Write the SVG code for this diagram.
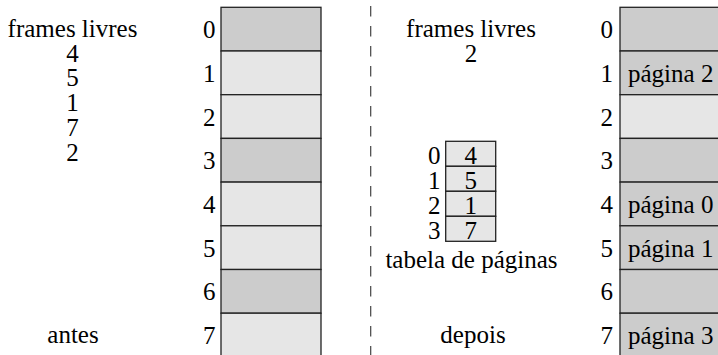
<svg xmlns="http://www.w3.org/2000/svg" width="718" height="355" viewBox="0 0 718 355" font-family="Liberation Serif, Tinos, Times New Roman, Times, serif">
<style>
text{font-family:'Liberation Serif',Tinos,'Times New Roman',Times,serif;font-size:25px;fill:#000}
.m{text-anchor:middle}
.e{text-anchor:end}
.d{fill:#cccccc;stroke:#222;stroke-width:1.3}
.l{fill:#e6e6e6;stroke:#222;stroke-width:1.3}
</style>
<rect width="718" height="355" fill="#fff"/>
<g id="antes-free">
<text class="m" x="72.5" y="37">frames livres</text>
<text class="m" x="72.5" y="61.5">4</text>
<text class="m" x="72.5" y="86.2">5</text>
<text class="m" x="72.5" y="111">1</text>
<text class="m" x="72.5" y="135.7">7</text>
<text class="m" x="72.5" y="160.5">2</text>
<text class="m" x="73" y="343">antes</text>
</g>
<g id="antes-mem">
<rect class="d" x="221" y="7.3" width="100" height="43.7"/>
<rect class="l" x="221" y="51" width="100" height="43.7"/>
<rect class="l" x="221" y="94.7" width="100" height="43.7"/>
<rect class="d" x="221" y="138.4" width="100" height="43.7"/>
<rect class="l" x="221" y="182.1" width="100" height="43.7"/>
<rect class="l" x="221" y="225.8" width="100" height="43.7"/>
<rect class="d" x="221" y="269.5" width="100" height="43.7"/>
<rect class="l" x="221" y="313.2" width="100" height="43.7"/>
<text class="e" x="215.5" y="38.2">0</text>
<text class="e" x="215.5" y="81.9">1</text>
<text class="e" x="215.5" y="125.6">2</text>
<text class="e" x="215.5" y="169.3">3</text>
<text class="e" x="215.5" y="213">4</text>
<text class="e" x="215.5" y="256.7">5</text>
<text class="e" x="215.5" y="300.4">6</text>
<text class="e" x="215.5" y="344.1">7</text>
</g>
<g id="separator">
<line x1="370.7" y1="6" x2="370.7" y2="355" stroke="#444" stroke-width="1.2" stroke-dasharray="10.5 9.5"/>
</g>
<g id="depois-free">
<text class="m" x="471" y="37">frames livres</text>
<text class="m" x="471" y="61.5">2</text>
<text class="m" x="473" y="343">depois</text>
</g>
<g id="page-table">
<rect class="l" x="445.7" y="141.3" width="50" height="25"/>
<rect class="l" x="445.7" y="166.3" width="50" height="25"/>
<rect class="l" x="445.7" y="191.3" width="50" height="25"/>
<rect class="l" x="445.7" y="216.3" width="50" height="25"/>
<text class="m" x="470.7" y="163.5">4</text>
<text class="m" x="470.7" y="188.5">5</text>
<text class="m" x="470.7" y="213.5">1</text>
<text class="m" x="470.7" y="238.5">7</text>
<text class="e" x="440.5" y="163.5">0</text>
<text class="e" x="440.5" y="188.5">1</text>
<text class="e" x="440.5" y="213.5">2</text>
<text class="e" x="440.5" y="238.5">3</text>
<text class="m" x="471.5" y="268">tabela de páginas</text>
</g>
<g id="depois-mem">
<rect class="d" x="620" y="7.3" width="100" height="43.7"/>
<rect class="d" x="620" y="51" width="100" height="43.7"/>
<rect class="l" x="620" y="94.7" width="100" height="43.7"/>
<rect class="d" x="620" y="138.4" width="100" height="43.7"/>
<rect class="d" x="620" y="182.1" width="100" height="43.7"/>
<rect class="d" x="620" y="225.8" width="100" height="43.7"/>
<rect class="d" x="620" y="269.5" width="100" height="43.7"/>
<rect class="d" x="620" y="313.2" width="100" height="43.7"/>
<text class="e" x="613" y="38.2">0</text>
<text class="e" x="613" y="81.9">1</text>
<text class="e" x="613" y="125.6">2</text>
<text class="e" x="613" y="169.3">3</text>
<text class="e" x="613" y="213">4</text>
<text class="e" x="613" y="256.7">5</text>
<text class="e" x="613" y="300.4">6</text>
<text class="e" x="613" y="344.1">7</text>
<text x="628" y="81.9">página 2</text>
<text x="628" y="213">página 0</text>
<text x="628" y="256.7">página 1</text>
<text x="628" y="344.1">página 3</text>
</g>
</svg>
